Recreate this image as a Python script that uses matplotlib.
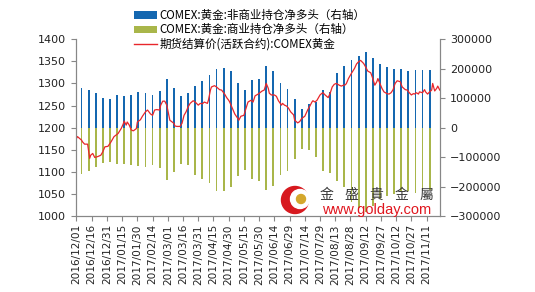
import numpy as np
import pandas as pd
import matplotlib
matplotlib.use('Agg')
import matplotlib.pyplot as plt
from matplotlib.patches import Patch, Circle
from matplotlib.lines import Line2D

plt.rcParams['font.family'] = ['Noto Sans CJK SC', 'DejaVu Sans']

# weekly COT report dates (Tuesdays)
cot_dates = pd.date_range('2016-12-06', periods=50, freq='7D')

noncomm = [135600, 128800, 116400, 99400, 96000, 109600, 106200, 109600, 119800, 117500,
           109600, 123200, 163900, 133300, 106200, 117500, 140100, 157100, 177400, 197800,
           201100, 191000, 151400, 126600, 160500, 166100, 207900, 191000, 151400, 132200,
           96000, 62200, 79100, 87000, 128800, 120900, 186400, 207900, 230500, 244100,
           255400, 237300, 214700, 205700, 200000, 198900, 192100, 194400, 196600, 194400]

comm = [-156000, -146900, -133300, -119800, -117500, -124300, -122000, -127700, -130000, -133300,
        -126600, -135600, -178500, -151400, -124300, -127700, -160500, -171800, -187600, -214700,
        -214700, -201100, -165000, -142400, -172000, -181000, -210000, -198000, -161000, -148000,
        -105000, -71000, -77000, -100000, -145000, -154000, -180000, -201000, -250000, -270000,
        -285000, -265000, -240000, -230000, -225000, -215000, -215000, -220000, -215000, -210000]

# settlement price, days after 2016/12/01
base_date = pd.Timestamp('2016-12-01')
price_day = [0, 1, 5, 6, 8, 11, 13, 14, 16, 18, 21, 24, 26, 28, 31, 34, 37, 41, 44, 46,
             47, 49, 50, 52, 54, 56, 59, 60, 63, 65, 68, 70, 73, 75, 77, 79, 82, 83, 85, 87,
             89, 91, 92, 96, 97, 99, 102, 104, 106, 108, 110, 112, 115, 117, 120, 122, 124, 126, 129, 130,
             132, 133, 136, 138, 141, 143, 146, 148, 150, 151, 153, 155, 156, 159, 160, 162, 165, 166, 168, 169,
             172, 174, 176, 179, 183, 185, 187, 189, 190, 192, 195, 197, 199, 202, 203, 205, 207, 209, 211, 214,
             215, 218, 220, 222, 225, 227, 228, 230, 232, 233, 235, 237, 238, 240, 242, 243, 245, 247, 248, 250,
             252, 254, 256, 259, 261, 263, 265, 266, 268, 271, 274, 276, 278, 280, 283, 285, 287, 290, 292, 294,
             296, 297, 299, 301, 303, 306, 308, 310, 312, 314, 316, 319, 321, 324, 326, 328, 330, 332, 333, 335,
             337, 338, 341, 343, 344, 346, 348, 350, 351, 353, 355, 356, 358]
price = [1176, 1180, 1172, 1168, 1163, 1163, 1131, 1138, 1142, 1133, 1135, 1138, 1146, 1157, 1158, 1168, 1180, 1187, 1198, 1208,
         1215, 1206, 1213, 1206, 1195, 1193, 1198, 1213, 1218, 1226, 1236, 1240, 1231, 1228, 1240, 1241, 1240, 1251, 1260, 1260,
         1251, 1228, 1217, 1210, 1204, 1203, 1203, 1210, 1228, 1236, 1247, 1255, 1261, 1258, 1251, 1255, 1254, 1258, 1255, 1262,
         1285, 1292, 1295, 1292, 1286, 1285, 1276, 1268, 1262, 1258, 1247, 1236, 1231, 1221, 1217, 1226, 1228, 1236, 1251, 1258,
         1262, 1258, 1272, 1276, 1283, 1285, 1300, 1289, 1278, 1274, 1274, 1271, 1261, 1251, 1255, 1251, 1249, 1244, 1236, 1229,
         1217, 1211, 1214, 1221, 1226, 1236, 1241, 1249, 1258, 1261, 1258, 1262, 1266, 1274, 1278, 1279, 1274, 1270, 1268, 1278,
         1292, 1298, 1300, 1296, 1294, 1296, 1297, 1300, 1311, 1323, 1334, 1344, 1349, 1352, 1345, 1337, 1328, 1324, 1311, 1296,
         1304, 1311, 1300, 1289, 1281, 1277, 1276, 1279, 1286, 1300, 1306, 1304, 1292, 1286, 1285, 1279, 1274, 1277, 1276, 1279,
         1276, 1281, 1279, 1286, 1281, 1276, 1281, 1285, 1300, 1283, 1289, 1294, 1285]
price_dates = base_date + pd.to_timedelta(price_day, unit='D')

tick_labels = ['2016/12/01', '2016/12/16', '2016/12/31', '2017/01/15', '2017/01/30', '2017/02/14',
               '2017/03/01', '2017/03/16', '2017/03/31', '2017/04/15', '2017/04/30', '2017/05/15',
               '2017/05/30', '2017/06/14', '2017/06/29', '2017/07/14', '2017/07/29', '2017/08/13',
               '2017/08/28', '2017/09/12', '2017/09/27', '2017/10/12', '2017/10/27', '2017/11/11']

blue = '#1467b0'
green = '#a9b64a'
red = '#e8262b'
axcol = '#878787'

fig = plt.figure(figsize=(5.35, 2.92), dpi=100)
ax = fig.add_axes([0.142, 0.259, 0.680, 0.607])
ax2 = ax.twinx()

ax2.bar(cot_dates, noncomm, width=1.8, color=blue, linewidth=0)
ax2.bar(cot_dates, comm, width=1.8, color=green, linewidth=0)
ax.plot(price_dates, price, color=red, linewidth=0.9)

ax.set_zorder(ax2.get_zorder() + 1)
ax.patch.set_visible(False)

ax.set_ylim(1000, 1400)
ax.set_yticks(np.arange(1000, 1401, 50))
ax2.set_ylim(-300000, 300000)
ax2.set_yticks(np.arange(-300000, 300001, 100000))

ticks = pd.to_datetime(tick_labels, format='%Y/%m/%d')
ax.set_xlim(base_date - pd.Timedelta(days=0.5), base_date + pd.Timedelta(days=358))
ax.set_xticks(ticks)
ax.set_xticklabels(tick_labels, rotation=90, fontsize=7.6, family='DejaVu Sans')

for a in (ax, ax2):
    for s in a.spines.values():
        s.set_color(axcol)
        s.set_linewidth(0.8)
    a.spines['top'].set_visible(False)
    a.tick_params(axis='both', colors=axcol, length=3.5, width=0.8, direction='out', pad=2)
    for lab in a.get_yticklabels() + a.get_xticklabels():
        lab.set_color('#222222')
ax.tick_params(axis='y', labelsize=8, pad=4)
ax2.tick_params(axis='y', labelsize=8, pad=4)
for lab in ax.get_yticklabels() + ax2.get_yticklabels():
    lab.set_family('DejaVu Sans')

handles = [Patch(facecolor=blue, edgecolor='none'),
           Patch(facecolor=green, edgecolor='none'),
           Line2D([0], [0], color=red, linewidth=1.0)]
labels = ['COMEX:黄金:非商业持仓净多头（右轴）',
          'COMEX:黄金:商业持仓净多头（右轴）',
          '期货结算价(活跃合约):COMEX黄金']
fig.legend(handles, labels, loc='upper left', bbox_to_anchor=(0.233, 1.0),
           frameon=False, fontsize=8.3, handlelength=2.0, handleheight=0.6,
           handletextpad=0.2, labelspacing=0.1, borderpad=0.3)

# watermark
fig.add_artist(Circle((2.95, 0.92), 0.135, transform=fig.dpi_scale_trans,
                      color='#d7191f', zorder=5))
fig.add_artist(Circle((3.00, 0.93), 0.095, transform=fig.dpi_scale_trans,
                      color='white', zorder=6))
fig.add_artist(Circle((3.01, 0.93), 0.045, transform=fig.dpi_scale_trans,
                      color='#d4a72c', zorder=7))
for i, ch in enumerate('金盛貴金屬'):
    fig.text((327 + 24.8 * i) / 535, 1 - 195 / 292, ch, ha='center', va='center',
             fontsize=10, color='#3a3a3a', zorder=8,
             family=['Noto Sans CJK TC', 'DejaVu Sans'])
fig.text(377 / 535, 1 - 210 / 292, 'www.golday.com', ha='center', va='center',
         fontsize=10.5, color='#e0161e', family='Liberation Sans', zorder=8)

fig.savefig('out.png', dpi=100)
